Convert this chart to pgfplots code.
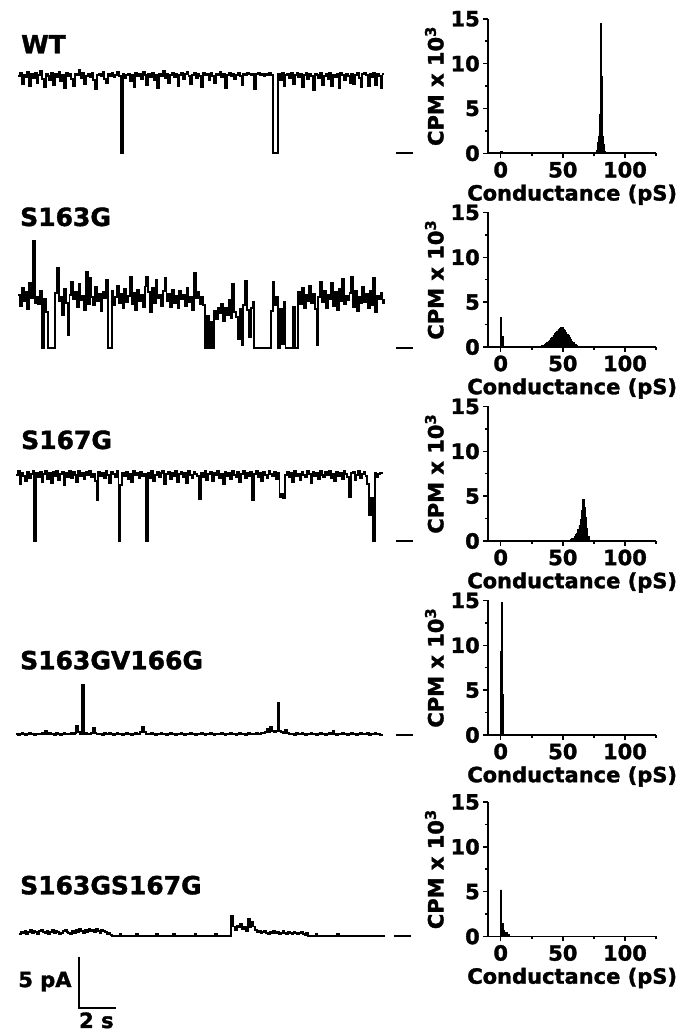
\documentclass[border=0pt]{standalone}
\usepackage{fontspec}
\setmainfont{DejaVu Sans}[BoldFeatures={FakeBold=1.5}]
\usepackage{pgfplots}
\usepackage{pgfplotstable}
\pgfplotsset{compat=1.18}

% current traces, one sample every 0.1 s (pA, closed level = 0)
\pgfplotstableread[row sep=\\]{I\\
7.6\\7.9\\6.8\\7.7\\7.5\\8.0\\6.6\\7.8\\7.4\\7.9\\
6.9\\7.7\\8.1\\7.3\\6.5\\7.8\\7.6\\7.2\\7.9\\6.7\\
7.8\\7.5\\8.0\\7.1\\7.7\\6.4\\7.9\\7.6\\7.8\\7.3\\
6.6\\7.8\\7.7\\8.2\\7.4\\7.9\\6.8\\7.6\\7.8\\7.5\\
7.9\\7.2\\6.3\\7.7\\7.8\\7.6\\8.0\\7.3\\6.9\\7.8\\
7.6\\7.9\\7.5\\7.7\\8.0\\7.6\\0.0\\7.8\\7.4\\7.7\\
7.8\\7.1\\7.7\\6.5\\7.9\\7.6\\7.8\\7.3\\8.0\\7.7\\
6.7\\7.8\\7.5\\7.9\\7.2\\7.7\\6.4\\7.8\\7.6\\8.1\\
7.4\\7.8\\6.9\\7.7\\7.9\\7.5\\7.8\\6.6\\7.7\\7.9\\
7.3\\7.8\\8.0\\7.6\\6.8\\7.7\\7.9\\7.4\\7.8\\7.6\\
6.5\\7.9\\7.7\\7.8\\7.2\\7.9\\7.6\\6.9\\7.8\\7.7\\
8.0\\7.5\\7.8\\6.4\\7.7\\7.9\\7.6\\7.8\\7.3\\7.7\\
7.9\\7.6\\6.7\\7.8\\7.7\\7.9\\7.8\\7.7\\7.8\\6.3\\
7.8\\7.9\\7.7\\7.8\\7.6\\7.8\\7.7\\7.9\\7.7\\0.0\\
0.0\\0.0\\7.8\\7.2\\7.9\\6.6\\7.7\\7.8\\7.4\\7.9\\
6.8\\7.7\\7.9\\7.5\\7.8\\6.5\\7.7\\7.9\\7.3\\7.8\\
7.6\\6.2\\7.8\\7.7\\7.4\\7.9\\6.7\\7.6\\7.8\\7.3\\
7.9\\6.6\\7.7\\7.5\\7.8\\6.4\\7.9\\7.7\\7.2\\7.8\\
7.6\\6.9\\7.8\\6.8\\7.7\\7.9\\7.4\\6.5\\7.8\\7.9\\
7.7\\6.6\\7.8\\7.5\\7.9\\6.7\\7.8\\7.6\\6.4\\7.8\\
7.8\\}\trWT

\pgfplotstableread[row sep=\\]{I\\
5.2\\4.1\\5.9\\4.6\\5.5\\3.8\\6.3\\4.9\\10.5\\4.4\\
5.0\\4.3\\5.6\\0.0\\4.8\\3.5\\0.0\\0.0\\0.0\\0.0\\
5.4\\7.8\\4.6\\5.0\\3.2\\5.8\\4.4\\1.2\\5.2\\6.4\\
4.8\\5.5\\4.0\\6.2\\4.7\\5.1\\3.7\\7.4\\4.3\\6.8\\
5.0\\4.2\\6.0\\4.6\\5.3\\3.6\\5.5\\4.9\\6.6\\0.0\\
0.0\\5.6\\4.2\\5.0\\6.1\\4.4\\5.3\\3.9\\5.8\\4.5\\
5.1\\6.9\\4.3\\5.4\\3.7\\5.7\\4.6\\5.2\\4.0\\6.0\\
6.9\\5.5\\3.5\\5.9\\4.4\\6.6\\4.9\\5.2\\4.1\\5.6\\
6.8\\4.6\\5.3\\4.0\\5.7\\4.4\\5.1\\3.9\\5.6\\4.8\\
5.2\\4.1\\5.9\\4.5\\5.0\\3.7\\7.3\\4.9\\5.5\\4.3\\
5.0\\4.2\\0.0\\3.1\\0.0\\2.5\\0.0\\3.6\\2.8\\3.9\\
3.4\\4.3\\2.6\\3.9\\3.2\\4.7\\2.9\\6.2\\3.5\\3.0\\
0.8\\3.8\\0.3\\4.2\\6.5\\3.7\\1.0\\3.9\\4.5\\0.0\\
0.0\\0.0\\0.0\\0.0\\0.0\\0.0\\0.0\\0.0\\3.6\\6.4\\
4.2\\5.0\\0.0\\3.8\\0.4\\4.5\\0.0\\0.0\\0.0\\0.0\\
4.0\\0.0\\0.0\\5.5\\4.3\\5.9\\3.9\\5.2\\4.6\\6.1\\
4.4\\5.3\\3.8\\0.3\\5.0\\6.4\\4.5\\5.6\\3.9\\5.2\\
4.8\\6.3\\4.1\\5.5\\3.7\\5.8\\4.6\\6.7\\4.3\\5.1\\
4.7\\5.4\\6.9\\4.0\\5.6\\3.6\\5.0\\4.4\\6.0\\4.5\\
5.3\\3.9\\5.6\\4.2\\6.8\\3.5\\5.1\\4.8\\5.4\\4.4\\
4.8\\}\trA

\pgfplotstableread[row sep=\\]{I\\
6.5\\6.9\\5.6\\6.7\\6.4\\5.9\\6.8\\6.2\\6.6\\6.9\\
0.0\\6.7\\6.3\\6.8\\5.8\\6.6\\6.9\\6.1\\6.7\\5.7\\
6.8\\6.4\\6.9\\6.0\\6.6\\6.8\\5.5\\6.7\\6.3\\6.9\\
6.2\\6.8\\6.5\\5.8\\6.9\\6.4\\6.7\\6.1\\6.8\\6.5\\
6.9\\6.3\\6.6\\5.9\\4.0\\6.8\\6.4\\6.7\\6.2\\6.9\\
6.5\\5.7\\6.8\\6.6\\6.3\\6.9\\0.0\\5.5\\6.7\\6.4\\
6.8\\6.1\\6.6\\5.8\\6.9\\6.5\\6.7\\6.2\\6.8\\6.4\\
6.6\\0.0\\6.7\\6.2\\6.9\\5.9\\6.5\\6.8\\6.3\\6.7\\
6.9\\5.6\\6.6\\6.8\\6.1\\6.7\\6.4\\6.9\\5.8\\6.6\\
6.8\\6.3\\6.7\\5.7\\6.9\\6.5\\6.2\\6.8\\6.6\\6.4\\
4.1\\6.7\\6.3\\6.9\\6.0\\6.6\\6.8\\5.9\\6.7\\6.5\\
6.9\\6.2\\6.6\\5.6\\6.8\\6.4\\6.7\\6.1\\6.9\\6.5\\
6.3\\6.8\\5.8\\6.6\\6.9\\6.2\\6.7\\6.4\\6.8\\4.0\\
6.6\\6.9\\6.3\\6.7\\5.9\\6.8\\6.5\\6.2\\6.9\\6.6\\
6.4\\6.8\\6.1\\6.7\\4.3\\4.6\\4.2\\6.5\\6.8\\6.3\\
6.7\\5.8\\6.9\\6.4\\6.6\\6.0\\6.8\\6.5\\6.3\\6.9\\
6.6\\5.7\\6.8\\6.4\\6.7\\6.1\\6.9\\6.5\\6.3\\6.8\\
6.5\\6.9\\6.2\\6.6\\5.9\\6.8\\6.4\\6.7\\6.1\\6.9\\
6.6\\6.3\\4.3\\6.7\\6.8\\6.0\\6.5\\6.9\\6.2\\6.6\\
6.8\\6.4\\5.6\\2.5\\4.2\\0.0\\6.7\\6.3\\6.6\\6.7\\
6.6\\}\trB

\pgfplotstableread[row sep=\\]{I\\
0.1\\0.0\\0.1\\0.2\\0.1\\0.0\\0.1\\0.2\\0.1\\0.1\\
0.0\\0.1\\0.1\\0.1\\0.2\\0.1\\0.4\\0.1\\0.2\\0.1\\
0.1\\0.0\\0.2\\0.1\\0.0\\0.1\\0.2\\0.1\\0.1\\0.1\\
0.2\\0.1\\0.2\\0.9\\0.3\\0.1\\4.9\\0.1\\0.2\\0.1\\
0.1\\0.2\\0.7\\0.2\\0.1\\0.1\\0.1\\0.0\\0.2\\0.1\\
0.1\\0.2\\0.1\\0.0\\0.1\\0.2\\0.1\\0.1\\0.0\\0.1\\
0.2\\0.1\\0.1\\0.0\\0.1\\0.2\\0.1\\0.1\\0.3\\0.8\\
0.3\\0.1\\0.1\\0.1\\0.2\\0.1\\0.0\\0.1\\0.1\\0.2\\
0.1\\0.1\\0.0\\0.1\\0.2\\0.1\\0.1\\0.0\\0.1\\0.1\\
0.2\\0.1\\0.0\\0.1\\0.1\\0.2\\0.1\\0.1\\0.0\\0.1\\
0.1\\0.2\\0.1\\0.0\\0.1\\0.1\\0.2\\0.1\\0.0\\0.1\\
0.1\\0.1\\0.2\\0.1\\0.0\\0.1\\0.1\\0.2\\0.1\\0.1\\
0.0\\0.1\\0.2\\0.1\\0.1\\0.0\\0.1\\0.2\\0.1\\0.1\\
0.1\\0.2\\0.1\\0.1\\0.2\\0.2\\0.3\\0.6\\0.3\\0.8\\
0.4\\0.3\\0.4\\3.1\\0.4\\0.3\\0.2\\0.5\\0.2\\0.1\\
0.1\\0.1\\0.0\\0.2\\0.1\\0.1\\0.2\\0.1\\0.0\\0.1\\
0.1\\0.2\\0.1\\0.1\\0.0\\0.1\\0.2\\0.1\\0.1\\0.0\\
0.1\\0.2\\0.1\\0.4\\0.1\\0.0\\0.1\\0.1\\0.2\\0.1\\
0.1\\0.0\\0.1\\0.2\\0.1\\0.1\\0.0\\0.1\\0.2\\0.1\\
0.1\\0.1\\0.2\\0.0\\0.1\\0.1\\0.2\\0.1\\0.1\\0.0\\
0.1\\}\trC

\pgfplotstableread[row sep=\\]{I\\
0.2\\0.4\\0.3\\0.5\\0.2\\0.4\\0.6\\0.3\\0.5\\0.4\\
0.2\\0.5\\0.6\\0.4\\0.3\\0.5\\0.2\\0.4\\0.6\\0.3\\
0.5\\0.4\\0.2\\0.3\\0.5\\0.6\\0.4\\0.3\\0.2\\0.5\\
0.3\\0.6\\0.4\\0.7\\0.5\\0.3\\0.6\\0.4\\0.7\\0.5\\
0.6\\0.4\\0.7\\0.5\\0.3\\0.6\\0.5\\0.4\\0.2\\0.3\\
0.1\\0.0\\0.0\\0.0\\0.0\\0.2\\0.0\\0.0\\0.0\\0.0\\
0.0\\0.0\\0.0\\0.0\\0.2\\0.0\\0.0\\0.0\\0.0\\0.0\\
0.0\\0.0\\0.0\\0.0\\0.0\\0.2\\0.0\\0.0\\0.0\\0.0\\
0.0\\0.0\\0.0\\0.0\\0.2\\0.0\\0.0\\0.0\\0.0\\0.0\\
0.0\\0.0\\0.0\\0.0\\0.0\\0.0\\0.2\\0.0\\0.0\\0.0\\
0.0\\0.0\\0.0\\0.0\\0.0\\0.0\\0.0\\0.2\\0.0\\0.0\\
0.0\\0.0\\0.0\\0.0\\0.0\\0.0\\1.9\\0.9\\0.6\\1.0\\
0.8\\1.2\\0.7\\0.9\\0.5\\1.6\\0.8\\1.3\\0.9\\0.6\\
0.4\\0.5\\0.3\\0.4\\0.5\\0.3\\0.2\\0.4\\0.3\\0.5\\
0.3\\0.4\\0.2\\0.3\\0.5\\0.3\\0.2\\0.4\\0.3\\0.2\\
0.4\\0.3\\0.2\\0.3\\0.4\\0.2\\0.1\\0.3\\0.0\\0.0\\
0.0\\0.0\\0.2\\0.0\\0.0\\0.0\\0.0\\0.0\\0.0\\0.0\\
0.0\\0.0\\0.0\\0.0\\0.2\\0.0\\0.0\\0.0\\0.0\\0.0\\
0.0\\0.0\\0.0\\0.0\\0.0\\0.0\\0.0\\0.0\\0.0\\0.0\\
0.0\\0.0\\0.0\\0.0\\0.0\\0.0\\0.0\\0.0\\0.0\\0.0\\
0.0\\}\trD

\newcommand{\bigbf}{\bfseries\fontsize{25}{25}\selectfont}
\newcommand{\tickbf}{\bfseries\fontsize{21}{21}\selectfont}

\pgfplotsset{
  trace/.style={hide axis, scale only axis, width=366pt, height=122.4pt,
    xmin=0, xmax=200, ymin=0, ymax=12, clip=false, anchor=south west},
  tr/.style={const plot, black, line width=1.9pt},
  dash/.style={black, line width=2.2pt},
  hist/.style={scale only axis, width=167.7pt, height=134.5pt,
    xmin=-10, xmax=125, ymin=0, ymax=15,
    axis x line*=bottom, axis y line*=left,
    axis line style={line width=1.9pt},
    xtick={0,50,100}, minor xtick={25,75,125},
    ytick={0,5,10,15}, minor ytick={2.5,7.5,12.5},
    tick align=outside, major tick length=5pt, minor tick length=3pt,
    every tick/.style={line width=1.5pt, black},
    /pgf/number format/assume math mode=true,
    ticklabel style={font=\tickbf},
    label style={font=\tickbf},
    xlabel={Conductance (pS)},
    ylabel={CPM x 10\textsuperscript{3}},
    anchor=south west},
  hb/.style={ybar interval, fill=black, draw=black, line width=0.6pt},
}

\begin{document}
\begin{tikzpicture}
\useasboundingbox (0,0) rectangle (679pt,1032pt);

% traces
\begin{axis}[trace, at={(18.3pt,878.7pt)}]
\addplot[tr] table[x expr=\coordindex, y=I] {\trWT};
\addplot[dash] coordinates {(206.4,0) (215.7,0)};
\end{axis}
\begin{axis}[trace, at={(18.3pt,684.3pt)}]
\addplot[tr] table[x expr=\coordindex, y=I] {\trA};
\addplot[dash] coordinates {(206.4,0) (215.7,0)};
\end{axis}
\begin{axis}[trace, at={(16pt,491pt)}]
\addplot[tr] table[x expr=\coordindex, y=I] {\trB};
\addplot[dash] coordinates {(207.7,0) (216.9,0)};
\end{axis}
\begin{axis}[trace, at={(16pt,297pt)}]
\addplot[tr] table[x expr=\coordindex, y=I] {\trC};
\addplot[dash] coordinates {(207.7,0) (216.9,0)};
\end{axis}
\begin{axis}[trace, at={(19pt,96.3pt)}]
\addplot[tr] table[x expr=\coordindex, y=I] {\trD};
\addplot[dash] coordinates {(204.9,0) (214.2,0)};
% scale bar: 5 pA, 2 s
\addplot[black, line width=1.8pt] coordinates {(32.95,-2.06) (32.95,-7.06) (53.0,-7.06)};
\node[anchor=east, inner sep=0pt, font=\tickbf] at (axis cs:28.8,-4.5) {5 pA};
\node[anchor=north, inner sep=0pt, font=\tickbf] at (axis cs:42.3,-7.5) {2 s};
\end{axis}

% row labels
\node[anchor=base west, inner sep=0pt, font=\bigbf] at (21pt,978.7pt) {WT};
\node[anchor=base west, inner sep=0pt, font=\bigbf] at (20pt,806pt) {S163G};
\node[anchor=base west, inner sep=0pt, font=\bigbf] at (21pt,583pt) {S167G};
\node[anchor=base west, inner sep=0pt, font=\bigbf] at (20pt,362.7pt) {S163GV166G};
\node[anchor=base west, inner sep=0pt, font=\bigbf] at (20pt,137.7pt) {S163GS167G};

% histograms
\begin{axis}[hist, at={(488.3pt,878.7pt)}]
\addplot[hb] coordinates {(0,0.2) (1,0) (77,0.3) (77.5,0.6) (78,1.2) (78.5,1.9)
  (79,2.2) (79.5,4.4) (80,11.0) (80.5,14.5) (81,8.6) (81.5,4.0) (82,1.9)
  (82.5,1.0) (83,0.4) (83.5,0.2) (84,0)};
\end{axis}
\begin{axis}[hist, at={(488.3pt,685pt)}]
\addplot[hb] coordinates {(-0.3,3.3) (0.5,0.3) (1.0,1.2) (1.8,0)
  (31,0.05) (32,0.1) (33,0.15) (34,0.2) (35,0.3) (36,0.4) (37,0.5) (38,0.65)
  (39,0.8) (40,0.95) (41,1.1) (42,1.3) (43,1.5) (44,1.65) (45,1.8) (46,1.95)
  (47,2.1) (48,2.2) (49,2.15) (50,2.0) (51,1.85) (52,1.65) (53,1.45) (54,1.25)
  (55,1.05) (56,0.85) (57,0.65) (58,0.5) (59,0.35) (60,0.25) (61,0.15)
  (62,0.1) (63,0.05) (64,0)};
\end{axis}
\begin{axis}[hist, at={(488.3pt,491pt)}]
\addplot[hb] coordinates {(54,0.05) (55,0.1) (56,0.15) (57,0.25) (58,0.35)
  (59,0.5) (60,0.7) (61,0.9) (62,1.25) (63,1.7) (64,2.4) (65,3.4) (66,4.6)
  (67,3.8) (68,2.6) (69,1.4) (70,0.5) (71,0.1) (72,0)};
\end{axis}
\begin{axis}[hist, at={(488.3pt,297pt)}]
\addplot[hb] coordinates {(-0.4,9.3) (0.3,14.8) (1.1,4.5) (2.0,0)};
\end{axis}
\begin{axis}[hist, at={(488.3pt,95.5pt)}]
\addplot[hb] coordinates {(-0.4,5.2) (0.6,1.5) (2.4,0.7) (3.2,0.5) (5.0,0.2) (6.5,0)};
\end{axis}
\end{tikzpicture}
\end{document}
